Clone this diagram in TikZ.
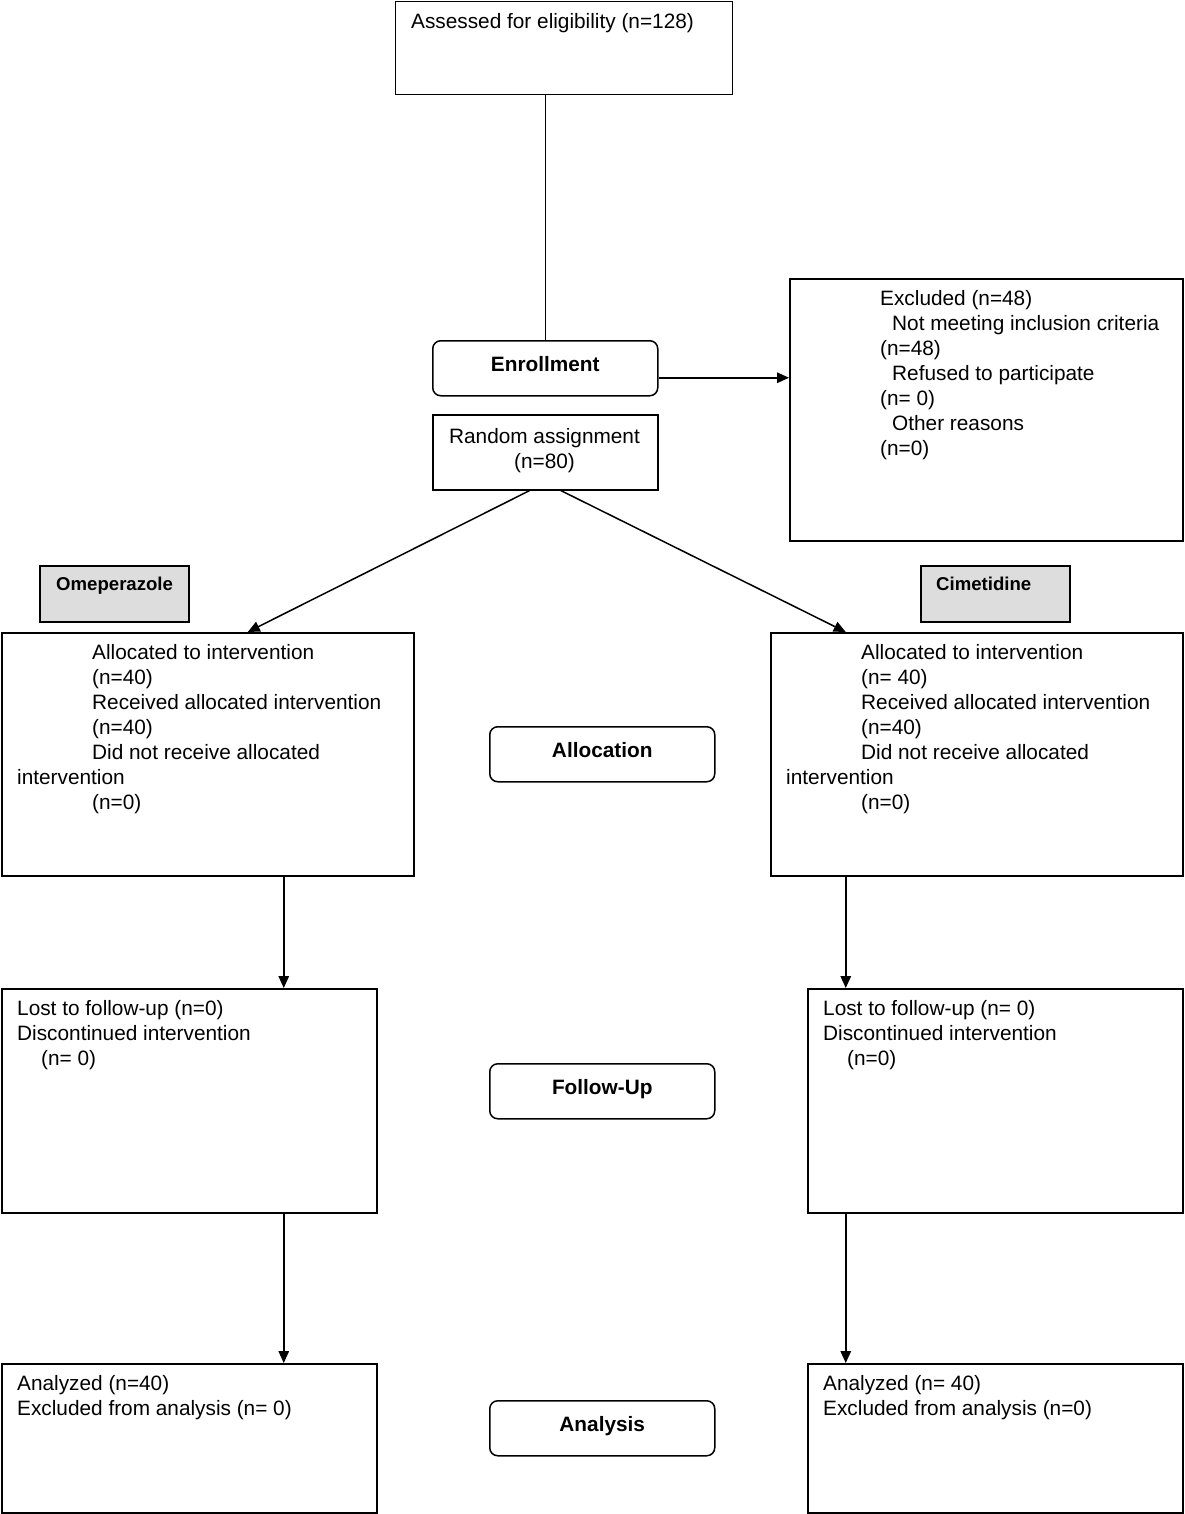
\documentclass[tikz,border=0pt]{standalone}
\usepackage{fontspec}
\setmainfont{Liberation Sans}
\usetikzlibrary{arrows.meta}
\definecolor{boxgray}{RGB}{221,221,221}
\newcommand\fsz{\fontsize{20.8}{25}\selectfont}
\newcommand\fst{\rule{0pt}{18pt}}
\tikzset{
  box/.style={draw, line width=1.5pt, inner sep=0pt, anchor=north west},
  rbox/.style={box, rounded corners=8pt, font=\fsz\bfseries, text height=14pt, text depth=8.5pt,
     minimum width=225pt, minimum height=55pt},
  gbox/.style={box, fill=boxgray, minimum width=149pt, minimum height=56pt},
  txt/.style={anchor=north west, inner sep=0pt, align=left, font=\fsz},
  arr/.style={line width=1.5pt, -{Triangle[length=12pt,width=10.5pt]}},
  ln/.style={line width=1.5pt}
}
\begin{document}
\begin{tikzpicture}[x=1pt,y=-1pt]
\useasboundingbox (0,0) rectangle (1184,1514);
% boxes
\node[box, minimum width=337pt, minimum height=93pt] (assess) at (394.5,1) {};
\node[txt] (assesst) at (411,10.5) {\fst Assessed for eligibility (n=128)};

\node[rbox] (enroll) at (432,340) {Enrollment};

\node[box, minimum width=225pt, minimum height=75pt] (rand) at (432,414) {};
\node[txt, anchor=north, align=center] (randt) at (544.5,425.5) {\fst Random assignment\\(n=80)};

\node[box, minimum width=393pt, minimum height=262pt] (excl) at (789,278) {};
\node[txt] (exclt) at (880,287.5) {\fst Excluded (n=48)\\
\hspace*{12pt}Not meeting inclusion criteria\\
(n=48)\\
\hspace*{12pt}Refused to participate\\
(n= 0)\\
\hspace*{12pt}Other reasons\\
(n=0)};

\node[gbox] (ome) at (39,565) {};
\node[txt, font=\fontsize{18.6}{22}\selectfont\bfseries] (omet) at (56,572.6) {\fst Omeperazole};
\node[gbox] (cim) at (920,565) {};
\node[txt, font=\fontsize{18.6}{22}\selectfont\bfseries] (cimt) at (936,572.6) {\fst Cimetidine};

\node[box, minimum width=412pt, minimum height=243pt] (lalloc) at (1,632) {};
\node[txt] (lallt) at (17,641.5) {\fst\hspace*{75pt}Allocated to intervention\\
\hspace*{75pt}(n=40)\\
\hspace*{75pt}Received allocated intervention\\
\hspace*{75pt}(n=40)\\
\hspace*{75pt}Did not receive allocated\\
intervention\\
\hspace*{75pt}(n=0)};

\node[box, minimum width=412pt, minimum height=243pt] (ralloc) at (770,632) {};
\node[txt] (rallt) at (786,641.5) {\fst\hspace*{75pt}Allocated to intervention\\
\hspace*{75pt}(n= 40)\\
\hspace*{75pt}Received allocated intervention\\
\hspace*{75pt}(n=40)\\
\hspace*{75pt}Did not receive allocated\\
intervention\\
\hspace*{75pt}(n=0)};

\node[rbox] (alloc) at (489,726) {Allocation};

\node[box, minimum width=375pt, minimum height=224pt] (lfol) at (1,988) {};
\node[txt] (lfolt) at (17,997.5) {\fst Lost to follow-up (n=0)\\
Discontinued intervention\\
\hspace*{24pt}(n= 0)};
\node[box, minimum width=375pt, minimum height=224pt] (rfol) at (807,988) {};
\node[txt] (rfolt) at (823,997.5) {\fst Lost to follow-up (n= 0)\\
Discontinued intervention\\
\hspace*{24pt}(n=0)};

\node[rbox] (follow) at (489,1063) {Follow-Up};

\node[box, minimum width=375pt, minimum height=149pt] (lana) at (1,1363) {};
\node[txt] (lanat) at (17,1372.5) {\fst Analyzed (n=40)\\
Excluded from analysis (n= 0)};
\node[box, minimum width=375pt, minimum height=149pt] (rana) at (807,1363) {};
\node[txt] (ranat) at (823,1372.5) {\fst Analyzed (n= 40)\\
Excluded from analysis (n=0)};

\node[rbox] (analysis) at (489,1400) {Analysis};

% connectors
\draw[ln] ([xshift=-18.5pt]assess.south) -- (enroll.north);
\draw[arr] ([yshift=-9.5pt]enroll.east) -- ([yshift=32pt]excl.west);
\draw[arr] ([xshift=-15.5pt]rand.south) -- ([xshift=40pt]lalloc.north);
\draw[arr] ([xshift=15.5pt]rand.south) -- ([xshift=-131pt]ralloc.north);
\draw[arr] ([xshift=76pt]lalloc.south) -- ([xshift=94.5pt]lfol.north);
\draw[arr] ([xshift=-131pt]ralloc.south) -- ([xshift=-149.5pt]rfol.north);
\draw[arr] ([xshift=94.5pt]lfol.south) -- ([xshift=94.5pt]lana.north);
\draw[arr] ([xshift=-149.5pt]rfol.south) -- ([xshift=-149.5pt]rana.north);
\end{tikzpicture}
\end{document}
